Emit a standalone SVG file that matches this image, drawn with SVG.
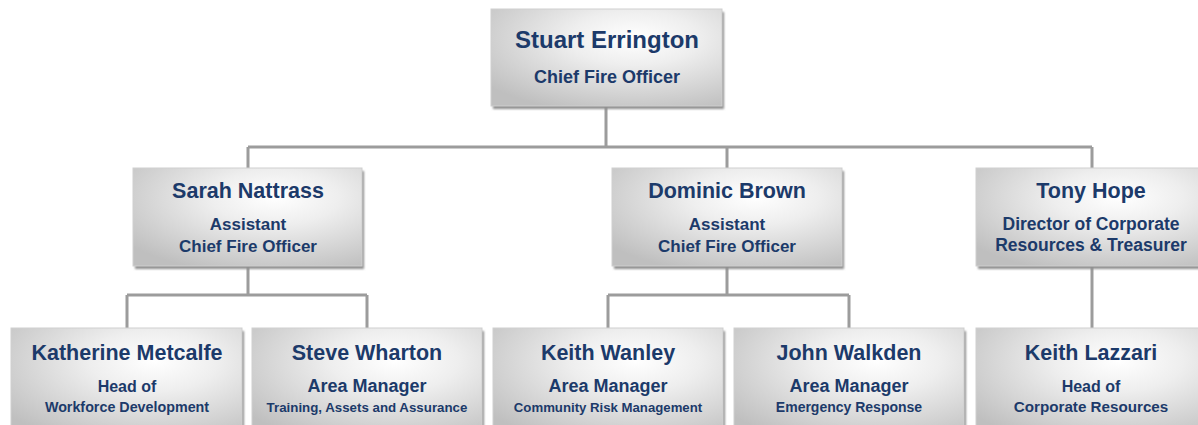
<svg xmlns="http://www.w3.org/2000/svg" width="1198" height="425" viewBox="0 0 1198 425">
<defs>
<radialGradient id="silver" cx="0.62" cy="0.3" r="0.8" fx="0.62" fy="0.3">
<stop offset="0" stop-color="#ffffff"/>
<stop offset="0.35" stop-color="#eeeeee"/>
<stop offset="1" stop-color="#bfbfbf"/>
</radialGradient>
<filter id="sh" x="-10%" y="-10%" width="120%" height="130%">
<feGaussianBlur stdDeviation="1.2"/>
</filter>
</defs>
<style>
.box{fill:url(#silver);stroke:#cfcfcf;stroke-width:1}
.shadow{fill:#8f8f8f;filter:url(#sh)}
.conn{fill:none;stroke:#9c9c9c;stroke-width:3}
text{font-family:"Liberation Sans",Arial,sans-serif;font-weight:bold;fill:#1c3a6a;text-anchor:middle}
.n1{font-size:24px}
.s1{font-size:18px}
.n{font-size:21.5px}
.s{font-size:17px}
</style>
<rect width="1198" height="425" fill="#ffffff"/>
<g id="connectors">
<path class="conn" d="M606 106V147M248 147H1092M248 147V168M727 147V168M1092 147V168"/>
<path class="conn" d="M248 266V295M127 295H367M127 295V328M367 295V328"/>
<path class="conn" d="M727 266V295M608 295H849M608 295V328M849 295V328"/>
<path class="conn" d="M1092 266V328"/>
</g>
<g id="stuart">
<rect class="shadow" x="493" y="12" width="231" height="97"/>
<rect class="box" x="491" y="9" width="231" height="97"/>
<text class="n1" x="607" y="48">Stuart Errington</text>
<text class="s1" x="607" y="83">Chief Fire Officer</text>
</g>
<g id="sarah">
<rect class="shadow" x="135" y="171" width="229" height="98"/>
<rect class="box" x="133" y="168" width="229" height="98"/>
<text class="n" x="248" y="198">Sarah Nattrass</text>
<text class="s" x="248" y="230">Assistant</text>
<text class="s" x="248" y="252">Chief Fire Officer</text>
</g>
<g id="dominic">
<rect class="shadow" x="614" y="171" width="230" height="98"/>
<rect class="box" x="612" y="168" width="230" height="98"/>
<text class="n" x="727" y="198">Dominic Brown</text>
<text class="s" x="727" y="230">Assistant</text>
<text class="s" x="727" y="252">Chief Fire Officer</text>
</g>
<g id="tony">
<rect class="shadow" x="978" y="171" width="230" height="98"/>
<rect class="box" x="976" y="168" width="230" height="98"/>
<text class="n" x="1091" y="198">Tony Hope</text>
<text class="s" x="1091" y="230" style="font-size:17.5px">Director of Corporate</text>
<text class="s" x="1091" y="251" style="font-size:17.5px">Resources &amp; Treasurer</text>
</g>
<g id="katherine">
<rect class="shadow" x="13" y="331" width="231" height="110"/>
<rect class="box" x="11" y="328" width="231" height="110"/>
<text class="n" x="127" y="360">Katherine Metcalfe</text>
<text class="s" x="127" y="392" style="font-size:16px">Head of</text>
<text x="127" y="412" style="font-size:14.3px">Workforce Development</text>
</g>
<g id="steve">
<rect class="shadow" x="254" y="331" width="230" height="110"/>
<rect class="box" x="252" y="328" width="230" height="110"/>
<text class="n" x="367" y="360">Steve Wharton</text>
<text class="s" x="367" y="392" style="font-size:18px">Area Manager</text>
<text x="367" y="412" style="font-size:13.3px">Training, Assets and Assurance</text>
</g>
<g id="keith-wanley">
<rect class="shadow" x="495" y="331" width="230" height="110"/>
<rect class="box" x="493" y="328" width="230" height="110"/>
<text class="n" x="608" y="360">Keith Wanley</text>
<text class="s" x="608" y="392" style="font-size:18px">Area Manager</text>
<text x="608" y="412" style="font-size:13.2px">Community Risk Management</text>
</g>
<g id="john">
<rect class="shadow" x="736" y="331" width="230" height="110"/>
<rect class="box" x="734" y="328" width="230" height="110"/>
<text class="n" x="849" y="360">John Walkden</text>
<text class="s" x="849" y="392" style="font-size:18px">Area Manager</text>
<text x="849" y="412" style="font-size:14px">Emergency Response</text>
</g>
<g id="keith-lazzari">
<rect class="shadow" x="978" y="331" width="230" height="110"/>
<rect class="box" x="976" y="328" width="230" height="110"/>
<text class="n" x="1091" y="360">Keith Lazzari</text>
<text class="s" x="1091" y="392" style="font-size:16px">Head of</text>
<text x="1091" y="412" style="font-size:15.2px">Corporate Resources</text>
</g>
</svg>
